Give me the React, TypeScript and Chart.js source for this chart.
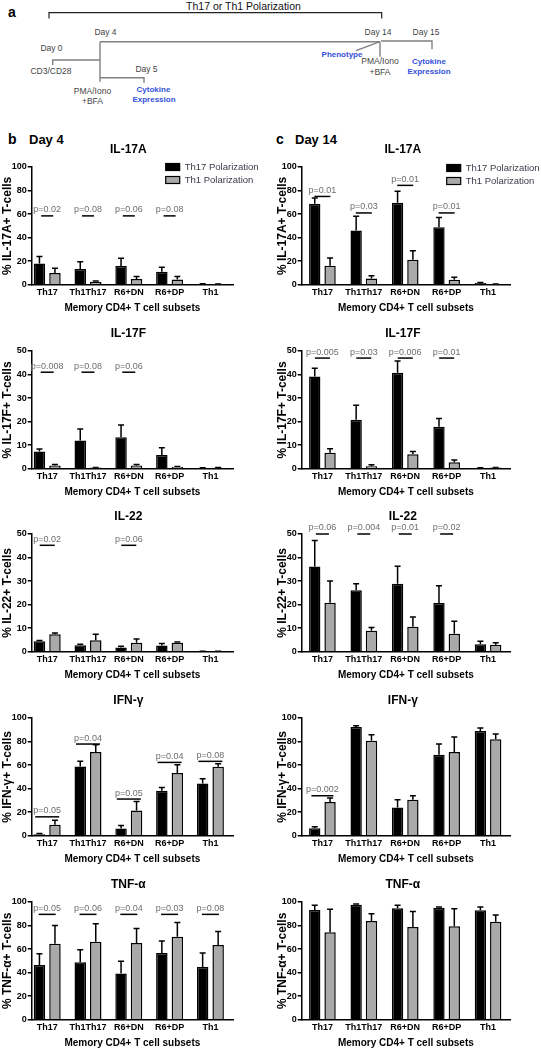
import React, { useEffect, useRef } from 'react';
import { Chart, registerables } from 'chart.js';

Chart.register(...registerables);

const FONT = "'Liberation Sans', Arial, sans-serif";
Chart.defaults.font.family = FONT;

// ---------- data ----------
const categories = ['Th17', 'Th1Th17', 'R6+DN', 'R6+DP', 'Th1'];
const seriesNames = ['Th17 Polarization', 'Th1 Polarization'];
const xAxisTitle = 'Memory CD4+ T cell subsets';

// Day 4 – IL-17A
const d4Il17aTh17 = [18, 13.5, 16, 11, 0.6];
const d4Il17aTh17Err = [6, 6, 6.5, 4, 0.2];
const d4Il17aTh1 = [10, 2.5, 5, 4.5, 0.5];
const d4Il17aTh1Err = [4, 0.7, 2, 2.5, 0.2];
const d4Il17aP = ['p=0.02', 'p=0.08', 'p=0.06', 'p=0.08', ''];
const d4Il17aPLevel = [58.5, 58.5, 58.5, 58.5, 0];

// Day 14 – IL-17A
const d14Il17aTh17 = [68.8, 46, 69.6, 48.9, 1.5];
const d14Il17aTh17Err = [4.8, 12.2, 9.9, 8.2, 0.5];
const d14Il17aTh1 = [16.2, 5.4, 21.3, 4.3, 0.5];
const d14Il17aTh1Err = [6.5, 2.3, 7.7, 2.2, 0.2];
const d14Il17aP = ['p=0.01', 'p=0.03', 'p=0.01', 'p=0.01', ''];
const d14Il17aPLevel = [75, 61, 84.4, 61, 0];

// Day 4 – IL-17F
const d4Il17fTh17 = [7.3, 12, 13.4, 5.9, 0.3];
const d4Il17fTh17Err = [1.1, 4.9, 5.2, 3, 0.1];
const d4Il17fTh1 = [1.4, 0.5, 1.4, 0.8, 0.4];
const d4Il17fTh1Err = [0.4, 0.1, 0.4, 0.2, 0.1];
const d4Il17fP = ['p=0.008', 'p=0.08', 'p=0.06', '', ''];
const d4Il17fPLevel = [41, 41, 41, 0, 0];

// Day 14 – IL-17F
const d14Il17fTh17 = [39.2, 20.8, 40.8, 17.9, 0.3];
const d14Il17fTh17Err = [3.5, 6.2, 5, 3.4, 0.1];
const d14Il17fTh1 = [6.8, 1.1, 6.2, 2.8, 0.5];
const d14Il17fTh1Err = [1.7, 0.6, 1.1, 0.9, 0.1];
const d14Il17fP = ['p=0.005', 'p=0.03', 'p=0.006', 'p=0.01', ''];
const d14Il17fPLevel = [47, 47, 47, 47, 0];

// Day 4 – IL-22
const d4Il22Th17 = [4.5, 2.8, 1.8, 2.7, 0.2];
const d4Il22Th17Err = [0.3, 0.4, 0.6, 0.8, 0.05];
const d4Il22Th1 = [7.5, 4.9, 3.8, 3.8, 0.2];
const d4Il22Th1Err = [0.5, 2.6, 1.6, 0.4, 0.05];
const d4Il22P = ['p=0.02', '', 'p=0.06', '', ''];
const d4Il22PLevel = [45.2, 0, 45.2, 0, 0];

// Day 14 – IL-22
const d14Il22Th17 = [36.2, 26.1, 28.9, 20.7, 3.2];
const d14Il22Th17Err = [11, 2.8, 7.4, 7.3, 1.3];
const d14Il22Th1 = [20.8, 8.9, 10.6, 7.7, 3];
const d14Il22Th1Err = [9.3, 1.4, 4.2, 5.3, 0.8];
const d14Il22P = ['p=0.06', 'p=0.004', 'p=0.01', 'p=0.02', ''];
const d14Il22PLevel = [50, 50, 50, 50, 0];

// Day 4 – IFN-γ
const d4IfnTh17 = [1.4, 58.9, 6.2, 38.2, 44.5];
const d4IfnTh17Err = [0.6, 4.3, 2.6, 2.9, 3.9];
const d4IfnTh1 = [9.3, 71.1, 21.5, 53.3, 58.6];
const d4IfnTh1Err = [4, 6.2, 7.7, 7, 2.6];
const d4IfnP = ['p=0.05', 'p=0.04', 'p=0.05', 'p=0.04', 'p=0.08'];
const d4IfnPLevel = [16.1, 77.9, 31.2, 62.3, 63.2];

// Day 14 – IFN-γ
const d14IfnTh17 = [6.5, 92.4, 24.1, 68.8, 89];
const d14IfnTh17Err = [1.1, 1.1, 6.5, 9.1, 2.5];
const d14IfnTh1 = [28.6, 80.7, 30.6, 71.1, 81.9];
const d14IfnTh1Err = [3.4, 5.1, 3.4, 12.8, 4.5];
const d14IfnP = ['p=0.002', '', '', '', ''];
const d14IfnPLevel = [34, 0, 0, 0, 0];

// Day 4 – TNF-α
const d4TnfTh17 = [46.6, 48.9, 39.2, 56.8, 44.9];
const d4TnfTh17Err = [9.4, 10.5, 10.5, 10, 11.9];
const d4TnfTh1 = [64.5, 66.2, 65.1, 70.5, 63.5];
const d4TnfTh1Err = [15.6, 15.3, 12.5, 12.2, 11.5];
const d4TnfP = ['p=0.05', 'p=0.06', 'p=0.04', 'p=0.03', 'p=0.08'];
const d4TnfPLevel = [89.5, 89.5, 89.5, 89.5, 89.5];

// Day 14 – TNF-α
const d14TnfTh17 = [93.2, 97.7, 94.6, 95.2, 92.9];
const d14TnfTh17Err = [4, 0.6, 2.6, 0.5, 2.8];
const d14TnfTh1 = [74.4, 83.8, 78.7, 79.5, 83.2];
const d14TnfTh1Err = [19.4, 6.2, 13.3, 14.8, 5.7];
const d14TnfP = ['', '', '', '', ''];
const d14TnfPLevel = [0, 0, 0, 0, 0];

// ---------- panel table ----------
type PanelDef = {
  row: number; col: number; title: string; yLabel: string; yMax: number; yStep: number;
  black: number[]; blackErr: number[]; gray: number[]; grayErr: number[];
  pText: string[]; pLevel: number[]; pHalf: number; legend: boolean;
};

const panels: PanelDef[] = [
  { row: 0, col: 0, title: 'IL-17A', yLabel: '% IL-17A+ T-cells', yMax: 100, yStep: 20, black: d4Il17aTh17, blackErr: d4Il17aTh17Err, gray: d4Il17aTh1, grayErr: d4Il17aTh1Err, pText: d4Il17aP, pLevel: d4Il17aPLevel, pHalf: 6, legend: true },
  { row: 0, col: 1, title: 'IL-17A', yLabel: '% IL-17A+ T-cells', yMax: 100, yStep: 20, black: d14Il17aTh17, blackErr: d14Il17aTh17Err, gray: d14Il17aTh1, grayErr: d14Il17aTh1Err, pText: d14Il17aP, pLevel: d14Il17aPLevel, pHalf: 8, legend: true },
  { row: 1, col: 0, title: 'IL-17F', yLabel: '% IL-17F+ T-cells', yMax: 50, yStep: 10, black: d4Il17fTh17, blackErr: d4Il17fTh17Err, gray: d4Il17fTh1, grayErr: d4Il17fTh1Err, pText: d4Il17fP, pLevel: d4Il17fPLevel, pHalf: 6.5, legend: false },
  { row: 1, col: 1, title: 'IL-17F', yLabel: '% IL-17F+ T-cells', yMax: 50, yStep: 10, black: d14Il17fTh17, blackErr: d14Il17fTh17Err, gray: d14Il17fTh1, grayErr: d14Il17fTh1Err, pText: d14Il17fP, pLevel: d14Il17fPLevel, pHalf: 7.5, legend: false },
  { row: 2, col: 0, title: 'IL-22', yLabel: '% IL-22+ T-cells', yMax: 50, yStep: 10, black: d4Il22Th17, blackErr: d4Il22Th17Err, gray: d4Il22Th1, grayErr: d4Il22Th1Err, pText: d4Il22P, pLevel: d4Il22PLevel, pHalf: 7.5, legend: false },
  { row: 2, col: 1, title: 'IL-22', yLabel: '% IL-22+ T-cells', yMax: 50, yStep: 10, black: d14Il22Th17, blackErr: d14Il22Th17Err, gray: d14Il22Th1, grayErr: d14Il22Th1Err, pText: d14Il22P, pLevel: d14Il22PLevel, pHalf: 6.5, legend: false },
  { row: 3, col: 0, title: 'IFN-γ', yLabel: '% IFN-γ+ T-cells', yMax: 100, yStep: 20, black: d4IfnTh17, blackErr: d4IfnTh17Err, gray: d4IfnTh1, grayErr: d4IfnTh1Err, pText: d4IfnP, pLevel: d4IfnPLevel, pHalf: 12, legend: false },
  { row: 3, col: 1, title: 'IFN-γ', yLabel: '% IFN-γ+ T-cells', yMax: 100, yStep: 20, black: d14IfnTh17, blackErr: d14IfnTh17Err, gray: d14IfnTh1, grayErr: d14IfnTh1Err, pText: d14IfnP, pLevel: d14IfnPLevel, pHalf: 11, legend: false },
  { row: 4, col: 0, title: 'TNF-α', yLabel: '% TNF-α+ T-cells', yMax: 100, yStep: 20, black: d4TnfTh17, blackErr: d4TnfTh17Err, gray: d4TnfTh1, grayErr: d4TnfTh1Err, pText: d4TnfP, pLevel: d4TnfPLevel, pHalf: 8.5, legend: false },
  { row: 4, col: 1, title: 'TNF-α', yLabel: '% TNF-α+ T-cells', yMax: 100, yStep: 20, black: d14TnfTh17, blackErr: d14TnfTh17Err, gray: d14TnfTh1, grayErr: d14TnfTh1Err, pText: d14TnfP, pLevel: d14TnfPLevel, pHalf: 8, legend: false },
];

// ---------- geometry ----------
const CANVAS_W = 270;
const CANVAS_H = 180;
const PAD_TOP = 30;
const PLOT_H = 117.8;
const Y_AXIS_W = 31.7;
const GRAY = '#a9a9a9';

const plotTop = (row: number) => 166.7 + row * 183.8;

const colCfg = [
  { padRight: 37, xMin: -0.38, xMax: 4.554, cp: 0.76, bp: 0.74, titlePad: 0, legendX: 134, legendY: 0, titleShift: -4 },
  { padRight: 30, xMin: -0.5, xMax: 4.53, cp: 0.74, bp: 0.74, titlePad: 5, legendX: 145, legendY: 1, titleShift: -3 },
];

function extrasPlugin(p: PanelDef) {
  const cc = colCfg[p.col];
  return {
    id: 'panelExtras',
    beforeDatasetsDraw(chart: any) {
      const ctx = chart.ctx;
      const ys = chart.scales.y;
      ctx.save();
      ctx.strokeStyle = '#000';
      ctx.lineWidth = 1.5;
      const sets: [number, number[], number[]][] = [[0, p.black, p.blackErr], [1, p.gray, p.grayErr]];
      sets.forEach(([di, vals, errs]) => {
        const meta = chart.getDatasetMeta(di);
        meta.data.forEach((bar: any, i: number) => {
          const top = ys.getPixelForValue(vals[i]);
          const e = ys.getPixelForValue(vals[i] + errs[i]);
          ctx.beginPath();
          ctx.moveTo(bar.x, top);
          ctx.lineTo(bar.x, e);
          ctx.moveTo(bar.x - 3, e);
          ctx.lineTo(bar.x + 3, e);
          ctx.stroke();
        });
      });
      ctx.restore();
    },
    afterDraw(chart: any) {
      const ctx = chart.ctx;
      const ys = chart.scales.y;
      const area = chart.chartArea;
      const m0 = chart.getDatasetMeta(0);
      const m1 = chart.getDatasetMeta(1);
      ctx.save();
      // p-value annotations
      p.pText.forEach((t, i) => {
        if (!t) return;
        const cx = (m0.data[i].x + m1.data[i].x) / 2;
        const y = ys.getPixelForValue(p.pLevel[i]);
        ctx.strokeStyle = '#000';
        ctx.lineWidth = 1.5;
        ctx.beginPath();
        ctx.moveTo(cx - p.pHalf, y);
        ctx.lineTo(cx + p.pHalf, y);
        ctx.stroke();
        ctx.fillStyle = '#6e6e6e';
        ctx.font = `9px ${FONT}`;
        ctx.textAlign = 'center';
        ctx.textBaseline = 'middle';
        ctx.fillText(t, cx, y - 6);
      });
      // panel title
      ctx.fillStyle = '#000';
      ctx.font = `bold 12px ${FONT}`;
      ctx.textAlign = 'center';
      ctx.textBaseline = 'middle';
      ctx.fillText(p.title, (area.left + area.right) / 2 + cc.titleShift, area.top - 17.5);
      // legend
      if (p.legend) {
        const lx = area.left + cc.legendX;
        const ly = area.top + cc.legendY;
        [0, 1].forEach((k) => {
          const yy = ly + k * 13;
          ctx.fillStyle = k === 0 ? '#000' : GRAY;
          ctx.fillRect(lx, yy - 3.5, 14, 7);
          ctx.strokeStyle = '#000';
          ctx.lineWidth = 1.2;
          ctx.strokeRect(lx, yy - 3.5, 14, 7);
          ctx.fillStyle = '#3a3a48';
          ctx.font = `9.5px ${FONT}`;
          ctx.textAlign = 'left';
          ctx.textBaseline = 'middle';
          ctx.fillText(seriesNames[k], lx + 19, yy);
        });
      }
      ctx.restore();
    },
  };
}

function makeConfig(p: PanelDef): any {
  const cc = colCfg[p.col];
  const ds = (k: number, vals: number[]) => ({
    label: seriesNames[k],
    data: vals.map((v, i) => ({ x: i, y: v })),
    backgroundColor: k === 0 ? '#000' : GRAY,
    borderColor: '#000',
    borderWidth: 1.5,
    categoryPercentage: cc.cp,
    barPercentage: cc.bp,
  });
  return {
    type: 'bar',
    data: { datasets: [ds(0, p.black), ds(1, p.gray)] },
    options: {
      animation: false,
      responsive: false,
      maintainAspectRatio: false,
      layout: { padding: { top: PAD_TOP, left: 0, right: cc.padRight, bottom: 0 } },
      plugins: { legend: { display: false }, title: { display: false }, tooltip: { enabled: false } },
      scales: {
        x: {
          type: 'linear',
          min: cc.xMin,
          max: cc.xMax,
          offset: false,
          grid: { display: false, drawTicks: false },
          border: { display: true, color: '#000', width: 1.5 },
          ticks: {
            color: '#000',
            font: { size: 9, weight: 'bold' },
            padding: 2,
            autoSkip: false,
            maxRotation: 0,
            callback: (v: number) => categories[v] ?? '',
          },
          afterBuildTicks: (s: any) => {
            s.ticks = categories.map((_, i) => ({ value: i }));
          },
          afterFit: (s: any) => {
            s.height = CANVAS_H - PAD_TOP - PLOT_H;
          },
          title: {
            display: true,
            text: xAxisTitle,
            color: '#000',
            font: { size: 10, weight: 'bold' },
            padding: { top: 0, bottom: 3 },
          },
        },
        y: {
          min: 0,
          max: p.yMax,
          grid: { display: true, drawOnChartArea: false, drawTicks: true, tickLength: 4, color: '#000', lineWidth: 1.5 },
          border: { display: true, color: '#000', width: 1.5 },
          ticks: { stepSize: p.yStep, color: '#000', font: { size: 9, weight: 'bold' }, padding: 1 },
          afterFit: (s: any) => {
            s.width = Y_AXIS_W;
          },
          title: {
            display: true,
            text: p.yLabel,
            color: '#000',
            font: { size: 12, weight: 'bold' },
            padding: { top: cc.titlePad, bottom: 0 },
          },
        },
      },
    },
    plugins: [extrasPlugin(p)],
  };
}

function Panel({ p }: { p: PanelDef }) {
  const ref = useRef<HTMLCanvasElement | null>(null);
  useEffect(() => {
    if (!ref.current) return;
    const chart = new Chart(ref.current, makeConfig(p));
    return () => chart.destroy();
  }, [p]);
  return (
    <canvas
      ref={ref}
      width={CANVAS_W}
      height={CANVAS_H}
      style={{ position: 'absolute', left: p.col * CANVAS_W, top: plotTop(p.row) - PAD_TOP, width: CANVAS_W, height: CANVAS_H }}
    />
  );
}

function Diagram() {
  const g = '#444';
  const blue = '#3350dc';
  const line = '#808080';
  const t = (x: number, y: number, s: string, color = g, bold = false, size = 8.5) => (
    <text x={x} y={y} textAnchor="middle" fill={color} fontSize={size} fontWeight={bold ? 'bold' : 'normal'} fontFamily={FONT}>
      {s}
    </text>
  );
  return (
    <svg width={541} height={150} style={{ position: 'absolute', left: 0, top: 0 }}>
      <text x={8} y={17} fontSize={14} fontWeight="bold" fontFamily={FONT} fill="#000">a</text>
      <text x={243.5} y={9.5} textAnchor="middle" fontSize={10.5} fontFamily={FONT} fill="#111">Th17 or Th1 Polarization</text>
      <path d="M49,18.5 V12.7 H381.7 V18.5" stroke="#222" strokeWidth={1.2} fill="none" />
      <g stroke={line} strokeWidth={1.4} fill="none">
        <path d="M100,41.7 H380" />
        <path d="M100,41.7 V81.7" />
        <path d="M52.7,65 V60 H100" />
        <path d="M100,77.7 H144 V82.7" />
        <path d="M380,41.7 V56.7" />
        <path d="M356,50.7 L380,41.7" />
        <path d="M381,41 H432 V49.3" />
      </g>
      {t(105.5, 35, 'Day 4')}
      {t(51.5, 51, 'Day 0')}
      {t(51, 74, 'CD3/CD28')}
      {t(146.5, 71.7, 'Day 5')}
      {t(92.5, 93.7, 'PMA/Iono')}
      {t(92.5, 103.7, '+BFA')}
      {t(153.5, 92.3, 'Cytokine', blue, true, 8)}
      {t(154, 102.3, 'Expression', blue, true, 8)}
      {t(378, 35, 'Day 14')}
      {t(426, 35, 'Day 15')}
      {t(342, 57.3, 'Phenotype', blue, true, 8)}
      {t(380, 64, 'PMA/Iono')}
      {t(380, 74.7, '+BFA')}
      {t(429, 64, 'Cytokine', blue, true, 8)}
      {t(429, 74, 'Expression', blue, true, 8)}
      <text x={8} y={144} fontSize={14} fontWeight="bold" fontFamily={FONT} fill="#000">b</text>
      <text x={29} y={144} fontSize={13} fontWeight="bold" fontFamily={FONT} fill="#000">Day 4</text>
      <text x={276} y={144} fontSize={14} fontWeight="bold" fontFamily={FONT} fill="#000">c</text>
      <text x={295} y={144} fontSize={13} fontWeight="bold" fontFamily={FONT} fill="#000">Day 14</text>
    </svg>
  );
}

export default function App() {
  return (
    <div style={{ position: 'absolute', left: 0, top: 0, width: 541, height: 1049, overflow: 'hidden', background: '#fff', fontFamily: FONT }}>
      <Diagram />
      {panels.map((p, i) => (
        <Panel key={i} p={p} />
      ))}
    </div>
  );
}
